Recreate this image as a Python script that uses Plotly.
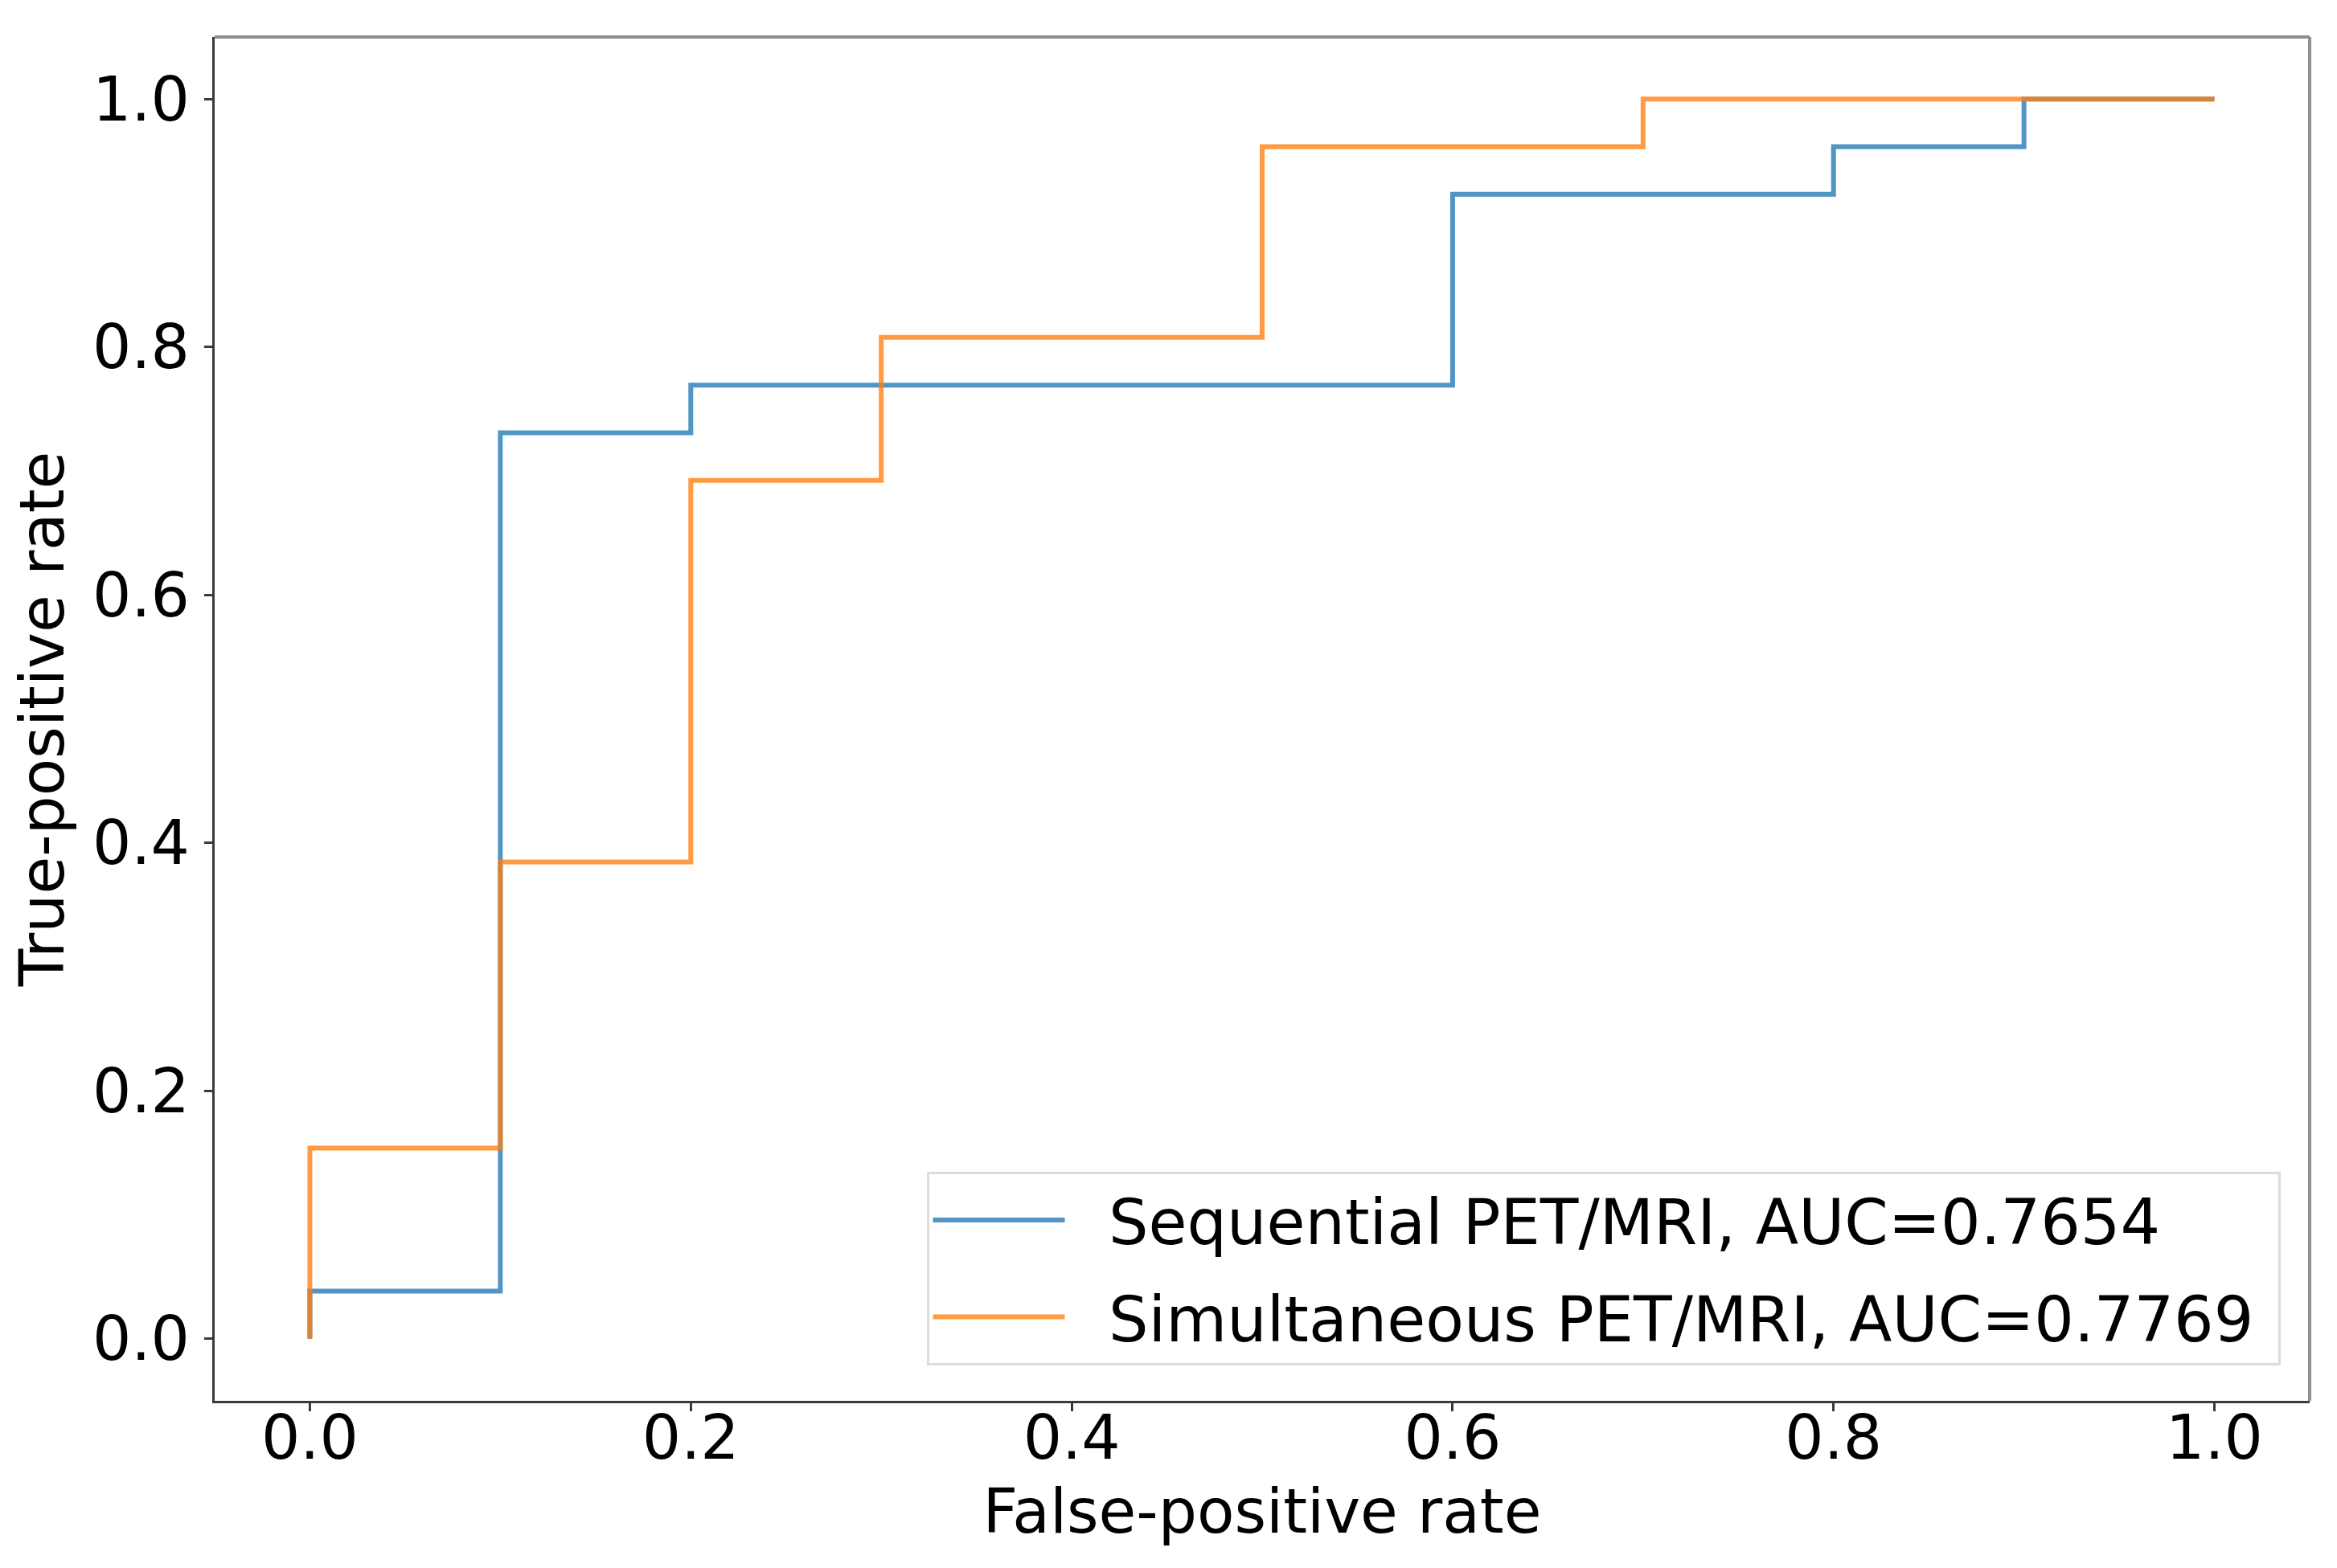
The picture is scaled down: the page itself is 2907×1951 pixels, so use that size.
import plotly.graph_objects as go

# ROC step curves (false-positive rate, true-positive rate)
seq_fpr = [0.0, 0.0, 0.1, 0.1, 0.2, 0.2, 0.6, 0.6, 0.8, 0.8, 0.9, 0.9, 1.0]
seq_tpr = [0.0, 0.0385, 0.0385, 0.7308, 0.7308, 0.7692, 0.7692, 0.9231, 0.9231, 0.9615, 0.9615, 1.0, 1.0]
sim_fpr = [0.0, 0.0, 0.1, 0.1, 0.2, 0.2, 0.3, 0.3, 0.5, 0.5, 0.7, 0.7, 1.0]
sim_tpr = [0.0, 0.1538, 0.1538, 0.3846, 0.3846, 0.6923, 0.6923, 0.8077, 0.8077, 0.9615, 0.9615, 1.0, 1.0]
series_names = ["Sequential PET/MRI, AUC=0.7654", "Simultaneous PET/MRI, AUC=0.7769"]
tick_vals = [0.0, 0.2, 0.4, 0.6, 0.8, 1.0]
tick_text = ["0.0", "0.2", "0.4", "0.6", "0.8", "1.0"]

FONT = "DejaVu Sans"
FS = 76
GAP = "\u00a0\u00a0"   # space between legend sample line and its label
TAIL = "\u00a0"        # right padding inside legend box

fig = go.Figure()
fig.add_trace(go.Scatter(x=seq_fpr, y=seq_tpr, mode="lines", name=GAP + series_names[0] + TAIL,
                         line=dict(color="rgba(31,119,180,0.78)", width=6),
                         legendgroup="a"))
fig.add_trace(go.Scatter(x=sim_fpr, y=sim_tpr, mode="lines", name=GAP + series_names[1] + TAIL,
                         line=dict(color="rgba(255,127,14,0.78)", width=6),
                         legendgroup="b"))

axis_common = dict(
    showgrid=False, zeroline=False, showline=True, linecolor="#3a3a3a", linewidth=3,
    ticks="outside", ticklen=10, tickwidth=2.5, tickcolor="#3a3a3a",
    tickfont=dict(family=FONT, size=FS, color="black"),
    tickvals=tick_vals, ticktext=tick_text, mirror=False,
)
fig.update_xaxes(range=[-0.05, 1.05], title=dict(text="False-positive rate",
                 font=dict(family=FONT, size=FS, color="black"), standoff=22),
                 ticklabelstandoff=-32, **axis_common)
fig.update_yaxes(range=[-0.05, 1.05], title=dict(text="True-positive rate",
                 font=dict(family=FONT, size=FS, color="black"), standoff=42),
                 ticklabelstandoff=3, **axis_common)

# top and right frame lines (lighter gray)
fig.add_shape(type="line", xref="x domain", yref="y domain", x0=0, x1=1, y0=1, y1=1,
              line=dict(color="#8f8f8f", width=4))
fig.add_shape(type="line", xref="x domain", yref="y domain", x0=1, x1=1, y0=0, y1=1,
              line=dict(color="#8f8f8f", width=4))

fig.update_layout(
    width=2899, height=1943,
    margin=dict(l=246, r=34, t=38, b=208),
    plot_bgcolor="white", paper_bgcolor="white",
    font=dict(family=FONT, size=FS, color="black"),
    legend=dict(x=0.986, y=0.026, xanchor="right", yanchor="bottom",
                bgcolor="rgba(255,255,255,0.85)", bordercolor="#dcdcdc", borderwidth=3,
                font=dict(family=FONT, size=78, color="black"),
                tracegroupgap=16, itemwidth=164),
    showlegend=True,
)

fig.write_html("out.html")
